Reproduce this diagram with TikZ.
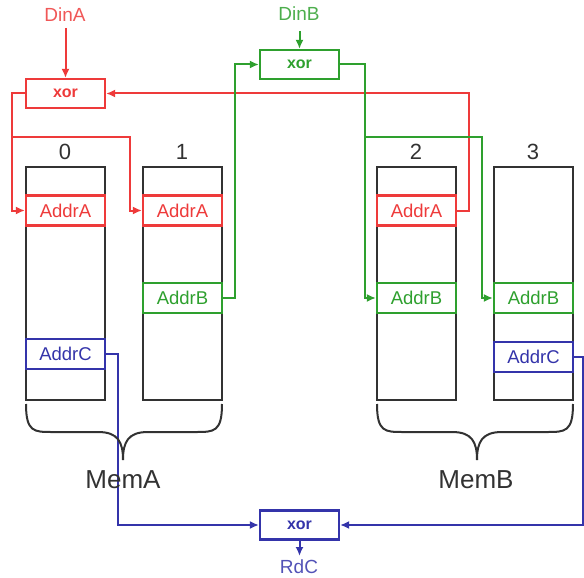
\documentclass[tikz,border=0pt]{standalone}
\usepackage{fontspec}
\setmainfont{Liberation Sans}
\usetikzlibrary{arrows.meta}
\definecolor{cred}{RGB}{238,58,58}
\definecolor{cgreen}{RGB}{46,160,46}
\definecolor{cblue}{RGB}{52,52,170}
\definecolor{cgray}{RGB}{50,50,50}
\tikzset{
  memblock/.style={draw=cgray, line width=2.2pt, minimum width=79pt, minimum height=233pt, inner sep=0pt},
  addrbox/.style={draw, fill=white, line width=2.2pt, minimum width=79pt, minimum height=30pt, inner sep=0pt, font=\fontsize{18.5}{18.5}\selectfont},
  xorbox/.style={draw, fill=white, line width=2.2pt, minimum width=79pt, minimum height=29pt, inner sep=0pt, font=\bfseries\fontsize{16}{16}\selectfont},
  conn/.style={line width=2pt},
  arr/.style={conn, -{Latex[length=9pt,width=8pt]}},
  idx/.style={font=\fontsize{22}{22}\selectfont, text=cgray},
  memlabel/.style={font=\fontsize{26}{26}\selectfont, text=cgray},
  brace/.style={draw=cgray, line width=2pt},
  iolabel/.style={font=\fontsize{19}{19}\selectfont}
}
\begin{document}
\begin{tikzpicture}[x=1pt,y=-1pt]
\useasboundingbox (0,0) rectangle (584,578);
% memory blocks
\node[memblock] (m0) at (65.5,283.5) {};
\node[memblock] (m1) at (182.5,283.5) {};
\node[memblock] (m2) at (416.5,283.5) {};
\node[memblock] (m3) at (533.5,283.5) {};
\node[idx] (l0) at (65,152) {0};
\node[idx] (l1) at (182,152) {1};
\node[idx] (l2) at (416,152) {2};
\node[idx] (l3) at (533,152) {3};
% address boxes
\node[addrbox, draw=cred, text=cred] (a0) at (65.5,210.5) {AddrA};
\node[addrbox, draw=cred, text=cred] (a1) at (182.5,210.5) {AddrA};
\node[addrbox, draw=cred, text=cred] (a2) at (416.5,210.5) {AddrA};
\node[addrbox, draw=cgreen, text=cgreen] (b1) at (182.5,298) {AddrB};
\node[addrbox, draw=cgreen, text=cgreen] (b2) at (416.5,298) {AddrB};
\node[addrbox, draw=cgreen, text=cgreen] (b3) at (533.5,298) {AddrB};
\node[addrbox, draw=cblue, text=cblue] (c0) at (65.5,354) {AddrC};
\node[addrbox, draw=cblue, text=cblue] (c3) at (533.5,357) {AddrC};
% xor boxes
\node[xorbox, draw=cred, text=cred] (xA) at (65.5,93.5) {xor};
\node[xorbox, draw=cgreen, text=cgreen] (xB) at (299.5,64.5) {xor};
\node[xorbox, draw=cblue, text=cblue] (xC) at (299.5,525) {xor};
% io labels
\node[iolabel, text=cred!85] (dinA) at (65,15) {DinA};
\node[iolabel, text=cgreen!85] (dinB) at (299,14) {DinB};
\node[iolabel, text=cblue!85] (rdC) at (299,567) {RdC};
\coordinate (dinAend) at (65.5,28);
\coordinate (dinBend) at (299.5,31);
\coordinate (rdCend) at (299.5,556);
% red connectors
\draw[arr, cred] (dinAend) -- (xA.north);
\coordinate (rL) at (12,137);
\coordinate (rM) at (130,137);
\coordinate (rR) at (469,93.5);
\draw[arr, cred] (xA.west) -| (rL) |- (a0.west);
\draw[arr, cred] (rL) -- (rM) |- (a1.west);
\draw[arr, cred] (a2.east) -| (rR) -- (xA.east);
% green connectors
\draw[arr, cgreen] (dinBend) -- (xB.north);
\coordinate (gL) at (235,64.5);
\coordinate (gM) at (365,137);
\coordinate (gR) at (482,137);
\draw[arr, cgreen] (b1.east) -| (gL) -- (xB.west);
\draw[arr, cgreen] (xB.east) -| (gM) |- (b2.west);
\draw[arr, cgreen] (gM) -- (gR) |- (b3.west);
% blue connectors
\coordinate (bL) at (118,525);
\coordinate (bR) at (582.5,525);
\draw[arr, cblue] (c0.east) -| (bL) -- (xC.west);
\draw[arr, cblue] (c3.east) -| (bR) -- (xC.east);
\draw[arr, cblue] (xC.south) -- (rdCend);
% braces
\draw[brace] (26,404) .. controls (26,432) and (34,432) .. (52,432) -- (98,432) .. controls (118,432) and (123,442) .. (123,460);
\draw[brace] (222,404) .. controls (222,432) and (214,432) .. (196,432) -- (148,432) .. controls (128,432) and (123,442) .. (123,460);
\draw[brace] (377,404) .. controls (377,432) and (385,432) .. (403,432) -- (452,432) .. controls (472,432) and (477,442) .. (477,460);
\draw[brace] (573,404) .. controls (573,432) and (565,432) .. (547,432) -- (502,432) .. controls (482,432) and (477,442) .. (477,460);
\node[memlabel] (memA) at (123,480) {MemA};
\node[memlabel] (memB) at (476,480) {MemB};
\end{tikzpicture}
\end{document}
